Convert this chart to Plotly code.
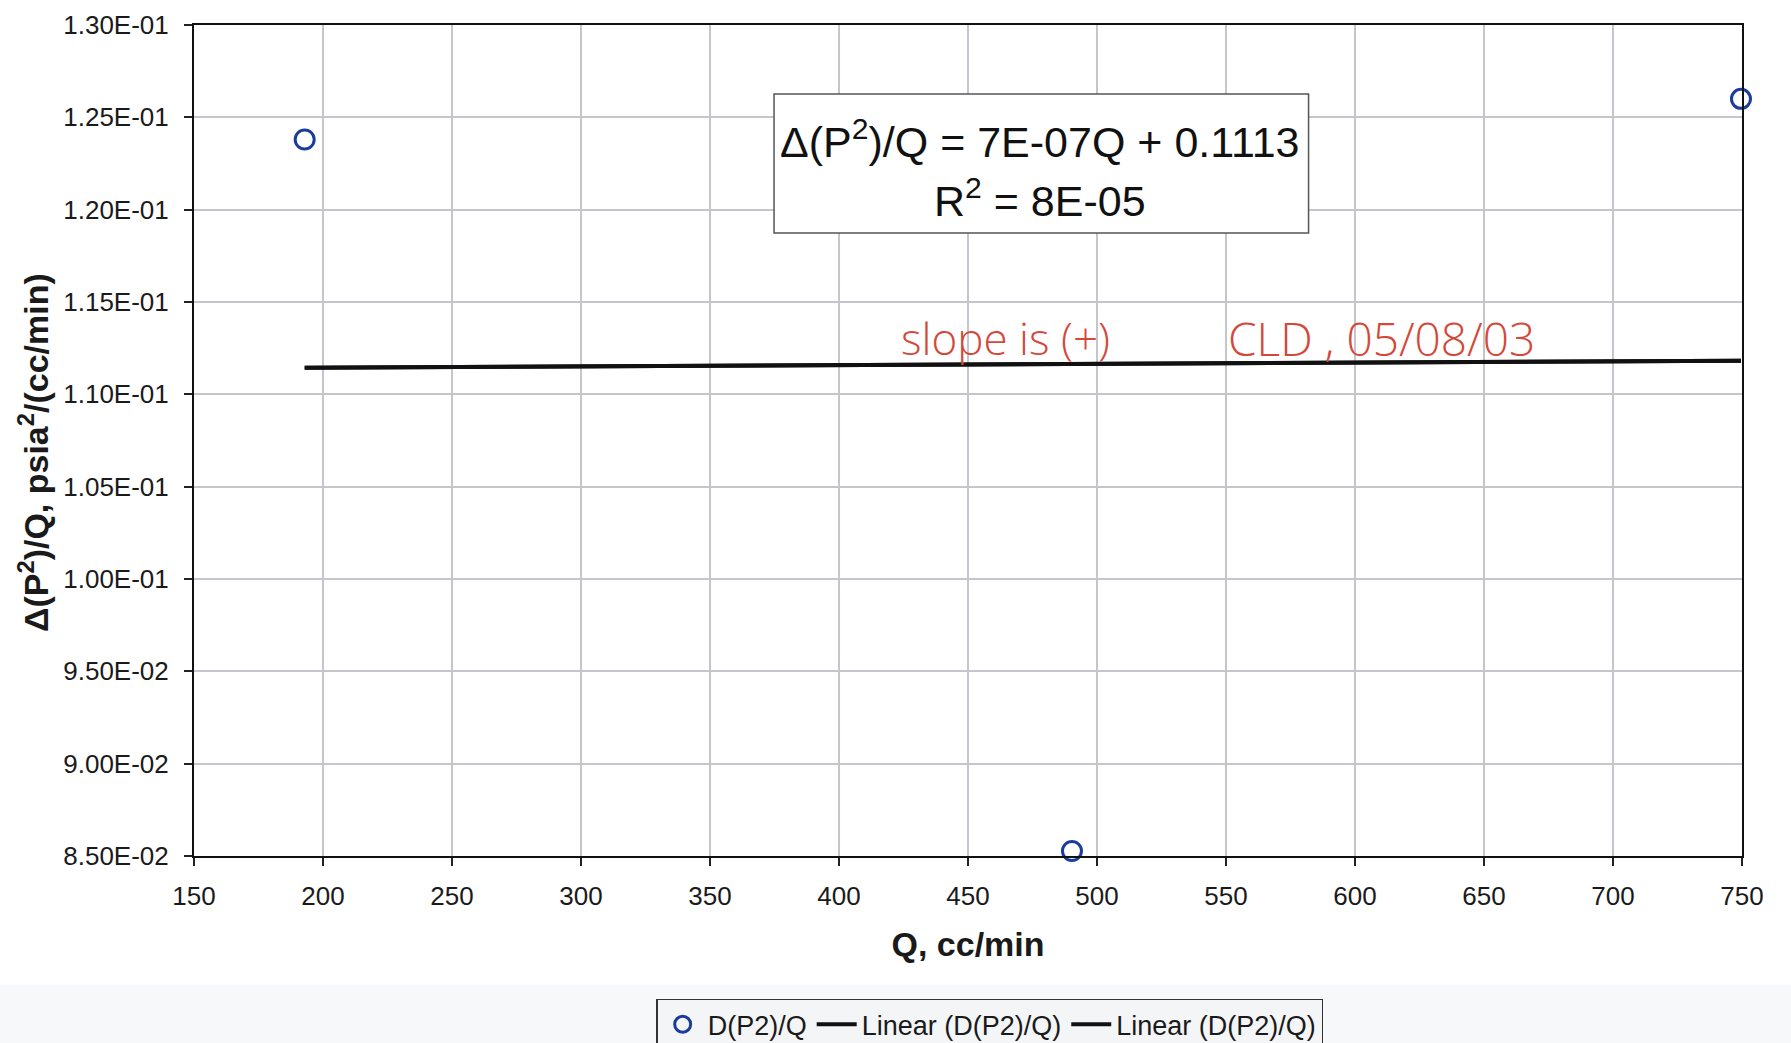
import plotly.graph_objects as go

# Measured data: flow rate Q (cc/min) vs. delta(P^2)/Q
q_values = [192.9, 490.3, 749.6]
dp2_over_q = [0.1238, 0.08527, 0.1260]

# Linear trendline reported by the fit
slope = 7e-07
intercept = 0.1113
r_squared = 8e-05

x_ticks = [150, 200, 250, 300, 350, 400, 450, 500, 550, 600, 650, 700, 750]
y_ticks = [0.085, 0.090, 0.095, 0.100, 0.105, 0.110, 0.115, 0.120, 0.125, 0.130]
y_tick_text = [f"{v:.2E}" for v in y_ticks]

series_name = "D(P2)/Q"
trend_name = "Linear (D(P2)/Q)"
x_title = "Q, cc/min"
y_title = "Δ(P<sup>2</sup>)/Q, psia<sup>2</sup>/(cc/min)"

FONT = "Liberation Sans, Arial, Helvetica, sans-serif"
NOTE_FONT = "Open Sans, sans-serif"

x_fit = [min(q_values), max(q_values)]
y_fit = [slope * x + intercept for x in x_fit]

fig = go.Figure()

fig.add_trace(go.Scatter(
    x=q_values, y=dp2_over_q, mode="markers", name=series_name,
    marker=dict(symbol="circle-open", size=19, color="#1c3c9c",
                line=dict(width=3, color="#1c3c9c")),
    cliponaxis=False,
))
# two identical linear trendlines (both listed in the legend)
for _ in range(2):
    fig.add_trace(go.Scatter(
        x=x_fit, y=y_fit, mode="lines", name=trend_name,
        line=dict(color="#111111", width=4),
    ))

fig.update_layout(
    width=1791, height=1043,
    margin=dict(l=194, r=49, t=25, b=187, autoexpand=False),
    paper_bgcolor="white", plot_bgcolor="white",
    font=dict(family=FONT, color="#1a1a1a"),
    showlegend=True,
    legend=dict(
        orientation="h", x=0.514, y=-0.203, xanchor="center", yanchor="middle",
        font=dict(size=27, family=FONT, color="#1a1a1a"),
        bgcolor="#f4f5f7", bordercolor="#333333", borderwidth=1.5,
        itemwidth=40, tracegroupgap=0,
    ),
    xaxis=dict(
        range=[150, 750], tickvals=x_ticks,
        ticks="outside", ticklen=8, tickwidth=1.5, tickcolor="#222222",
        tickfont=dict(size=26, family=FONT, color="#1a1a1a"),
        ticklabelstandoff=8,
        showline=True, linecolor="#111111", linewidth=2, mirror=True,
        showgrid=True, gridcolor="#c4c6cc", gridwidth=1.5,
        zeroline=False,
        title=dict(text=f"<b>{x_title}</b>", font=dict(size=34, family=FONT, color="#1a1a1a"),
                   standoff=22),
    ),
    yaxis=dict(
        range=[0.085, 0.13], tickvals=y_ticks, ticktext=y_tick_text,
        ticks="outside", ticklen=8, tickwidth=1.5, tickcolor="#222222",
        tickfont=dict(size=26, family=FONT, color="#1a1a1a"),
        ticklabelstandoff=10,
        showline=True, linecolor="#111111", linewidth=2, mirror=True,
        showgrid=True, gridcolor="#c4c6cc", gridwidth=1.5,
        zeroline=False,
    ),
)

# y-axis title, placed as a rotated annotation
fig.add_annotation(
    xref="paper", yref="paper", x=-0.1033, y=0.485,
    xanchor="center", yanchor="middle", showarrow=False, textangle=-90,
    text=f"<b>{y_title}</b>", font=dict(size=34, family=FONT, color="#1a1a1a"),
)

# light band behind the legend area
fig.add_shape(type="rect", xref="paper", yref="paper",
              x0=-0.2, x1=1.1, y0=-0.3, y1=-0.155,
              fillcolor="#f7f8fa", line=dict(width=0), layer="below")

# regression equation box
fig.add_shape(type="rect", xref="paper", yref="paper",
              x0=0.3747, x1=0.7200, y0=0.7497, y1=0.9170,
              fillcolor="white", line=dict(color="#555555", width=1.5))
eq_line1 = f"Δ(P<sup>2</sup>)/Q = {slope:.0E}Q + {intercept}"
eq_line2 = f"R<sup>2</sup> = {r_squared:.0E}"
fig.add_annotation(
    xref="paper", yref="paper", x=0.5465, y=0.8632,
    xanchor="center", yanchor="middle", showarrow=False,
    text=eq_line1, font=dict(size=43, family=FONT, color="#111111"),
)
fig.add_annotation(
    xref="paper", yref="paper", x=0.5465, y=0.7924,
    xanchor="center", yanchor="middle", showarrow=False,
    text=eq_line2, font=dict(size=43, family=FONT, color="#111111"),
)

# handwritten note above the trendline
note_color = "#d4483a"
fig.add_annotation(
    xref="paper", yref="paper", x=0.5241, y=0.6230,
    xanchor="center", yanchor="middle", showarrow=False,
    text="slope is (+)", font=dict(size=44, family=NOTE_FONT,
                                   color=note_color, weight=300),
)
fig.add_annotation(
    xref="paper", yref="paper", x=0.7669, y=0.6230,
    xanchor="center", yanchor="middle", showarrow=False,
    text="CLD , 05/08/03", font=dict(size=46, family=NOTE_FONT,
                                      color=note_color, weight=300),
)

fig.write_html("out.html")
